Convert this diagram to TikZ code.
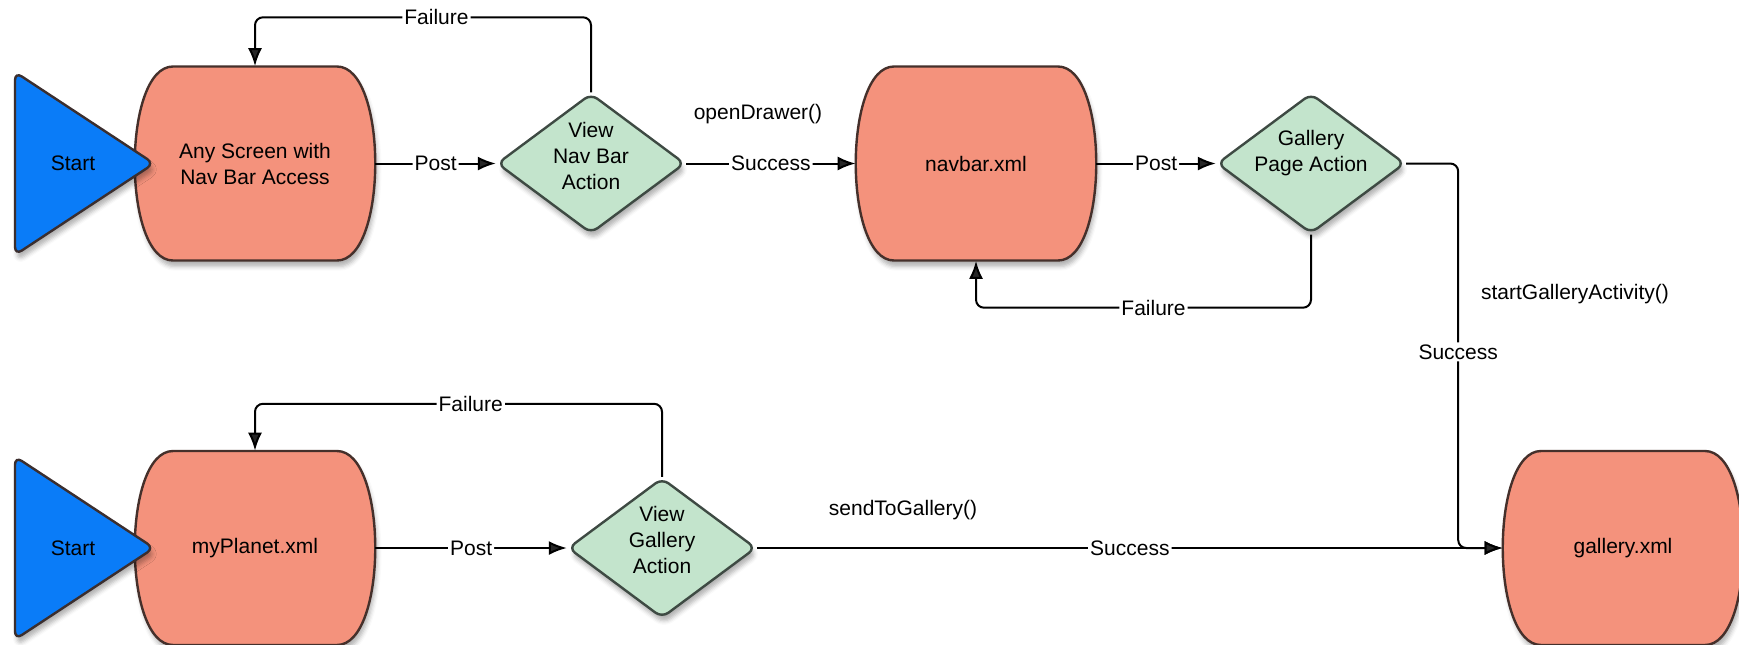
\documentclass[tikz,border=0pt]{standalone}
\usepackage{fontspec}
\setmainfont{Liberation Sans}
\usepackage{xcolor}
\usetikzlibrary{shapes.geometric,arrows.meta,positioning,shadows.blur}

\definecolor{salmon}{HTML}{F4927C}
\definecolor{barrelline}{HTML}{45302B}
\definecolor{mint}{HTML}{C3E4CC}
\definecolor{mintline}{HTML}{3E4A43}
\definecolor{startblue}{HTML}{0A7CF8}
\definecolor{startline}{HTML}{3B2E2E}

\tikzset{
  barrel/.style={fill=salmon, draw=barrelline, line width=1.2pt,
    blur shadow={shadow xshift=1pt, shadow yshift=-3pt, shadow opacity=30}},
  boxtext/.style={rectangle, minimum width=120pt, minimum height=97pt, align=center},
  action/.style={diamond, fill=mint, draw=mintline, line width=1.2pt, rounded corners=4pt,
    minimum width=94pt, minimum height=70pt, aspect=1.35, inner sep=-8pt, align=center,
    blur shadow={shadow xshift=1pt, shadow yshift=-3pt, shadow opacity=30}},
  starttri/.style={fill=startblue, draw=startline, line width=1.2pt, rounded corners=4pt,
    blur shadow={shadow xshift=1pt, shadow yshift=-3pt, shadow opacity=30}},
  flow/.style={line width=1pt, rounded corners=4pt, -{Latex[length=9pt,width=7pt]}},
  lbl/.style={fill=white, inner sep=1pt},
  callname/.style={inner sep=1pt}
}

\begin{document}
\begin{tikzpicture}[x=0.5pt, y=0.5pt, font=\fontsize{10.5}{13}\selectfont]
  \useasboundingbox (0,0) rectangle (1739,-644);

  % screens
  \foreach \cx/\cy in {255/-163.5, 976/-163.5, 255/-548, 1623/-548}
    \filldraw[barrel] (\cx-82,\cy+97) -- (\cx+82,\cy+97)
      .. controls (\cx+133,\cy+97) and (\cx+133,\cy-97) .. (\cx+82,\cy-97)
      -- (\cx-82,\cy-97)
      .. controls (\cx-133,\cy-97) and (\cx-133,\cy+97) .. (\cx-82,\cy+97) -- cycle;

  % start markers
  \foreach \cy in {-163.5, -548}
    \filldraw[starttri] (15,\cy+91.5) -- (154,\cy) -- (15,\cy-91.5) -- cycle;

  \node (start1) at (73,-163.5) {Start};
  \node (start2) at (73,-548) {Start};

  \node[boxtext] (anyscreen) at (255,-163.5) {Any Screen with\\Nav Bar Access};
  \node[boxtext] (navbar) at (976,-163.5) {navbar.xml};
  \node[boxtext] (myplanet) at (255,-548) {myPlanet.xml};
  \node[boxtext] (gallery) at (1623,-548) {gallery.xml};

  \node[action] (viewnav) at (591,-163.5) {View\\Nav Bar\\Action\\[-5pt]{}};
  \node[action] (gallerypage) at (1311,-163.5) {Gallery\\Page Action\\{}};
  \node[action] (viewgallery) at (662,-548) {View\\Gallery\\Action\\[-5pt]{}};

  % method calls
  \node[callname] (opendrawer) at (758,-114) {openDrawer()};
  \node[callname] (startgal) at (1575,-294) {startGalleryActivity()};
  \node[callname] (sendgal) at (903,-510) {sendToGallery()};

  % top row
  \draw[flow] (anyscreen.east) -- node[lbl]{Post} (viewnav.west);
  \draw[flow] (viewnav.north) -- ++(0,75) -| node[lbl, pos=0.23]{Failure} (anyscreen.north);
  \draw[flow] (viewnav.east) -- node[lbl]{Success} (navbar.west);
  \draw[flow] (navbar.east) -- node[lbl]{Post} (gallerypage.west);
  \draw[flow] (gallerypage.south) -- ++(0,-73) -| node[lbl, pos=0.235]{Failure} (navbar.south);
  \draw[flow] (gallerypage.east) -- ++(52,0) |- node[lbl, pos=0.245]{Success} (gallery.west);

  % bottom row
  \draw[flow] (myplanet.east) -- node[lbl]{Post} (viewgallery.west);
  \draw[flow] (viewgallery.north) -- ++(0,73) -| node[lbl, pos=0.235]{Failure} (myplanet.north);
  \draw[flow] (viewgallery.east) -- node[lbl]{Success} (gallery.west);
\end{tikzpicture}
\end{document}
